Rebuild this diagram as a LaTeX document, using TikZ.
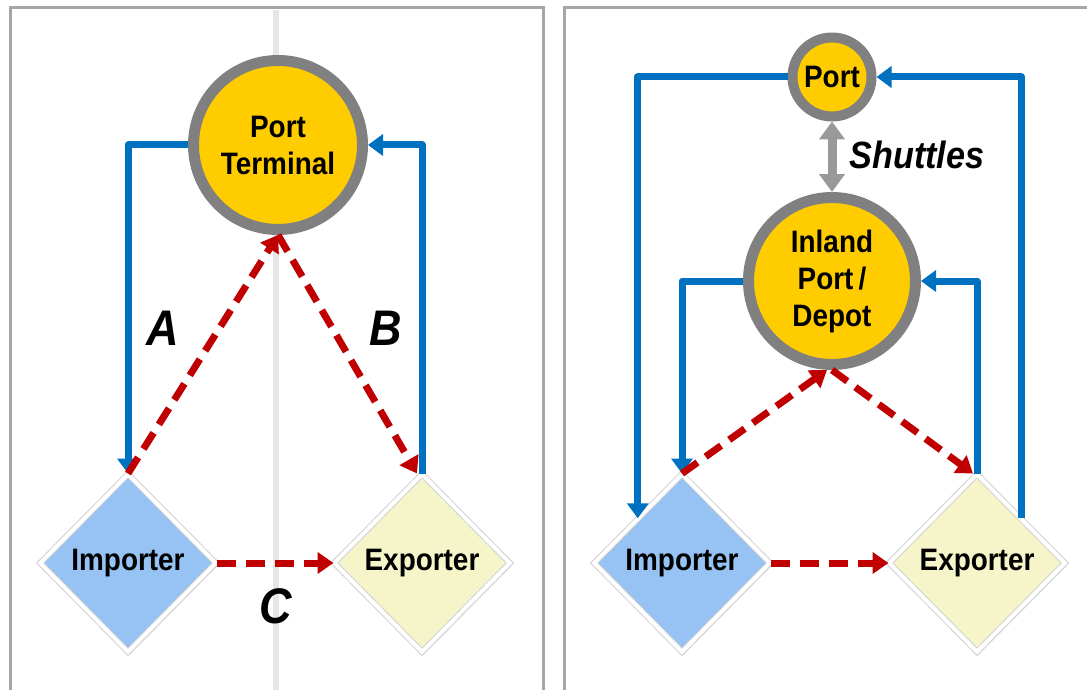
\documentclass[tikz,border=0pt]{standalone}
\usepackage{fontspec}
\setmainfont{Liberation Sans}
\newfontfamily\nf[FakeStretch=0.9]{Liberation Sans}
\usetikzlibrary{arrows.meta,shapes.geometric,shadows}
\definecolor{fblue}{HTML}{0070C0}
\definecolor{fred}{HTML}{C00000}
\definecolor{ring}{HTML}{808080}
\definecolor{gold}{HTML}{FFCC00}
\definecolor{impfill}{HTML}{96C3F3}
\definecolor{expfill}{HTML}{F5F5C9}
\definecolor{frame}{HTML}{A6A6A6}
\definecolor{midline}{HTML}{E6E6E6}
\definecolor{shut}{HTML}{999999}
\tikzset{
  x=1pt, y=-1pt,
  hub/.style={circle, draw=ring, line width=11pt, fill=gold, inner sep=0pt,
    align=center, font=\nf\bfseries\fontsize{31}{37}\selectfont,
    drop shadow={shadow xshift=3pt, shadow yshift=-3pt, opacity=0.25}},
  party/.style={diamond, draw=black!18, double=white, double distance=4pt,
    line width=1pt, inner sep=0pt,
    minimum width=176pt, minimum height=178pt,
    font=\nf\bfseries\fontsize{31}{37}\selectfont,
    drop shadow={shadow xshift=2pt, shadow yshift=-3pt, opacity=0.15}},
  flow/.style={draw=fblue, line width=7pt, line join=round,
    -{Triangle[length=15pt,width=21pt]}},
  cargo/.style={draw=fred, line width=7pt, dash pattern=on 19pt off 10pt,
    -{Triangle[length=16pt,width=21pt]}},
  lab/.style={font=\nf\bfseries\itshape\fontsize{50}{56}\selectfont},
}
\begin{document}
\begin{tikzpicture}
\useasboundingbox (0,0) rectangle (1087,690);
\fill[white] (0,0) rectangle (1087,690);
% panels
\draw[frame, line width=3pt] (10,8) rectangle (543,700);
\draw[frame, line width=3pt] (564,8) rectangle (1100,700);
\draw[midline, line width=6pt] (276,10) -- (276,690);

% ---------- left panel ----------
\node[hub, minimum size=169pt] (pt) at (278,145) {Port\\Terminal};
\node[party, fill=impfill] (imp) at (128,563) {Importer};
\node[party, fill=expfill] (exp) at (422,563) {Exporter};

\draw[flow] (pt.west) -| (imp.north);
\draw[flow] (exp.north) |- (pt.east);
\draw[cargo] (imp.north) -- (pt.south);
\draw[cargo] (pt.south) -- ([xshift=-5pt]exp.north);
\draw[cargo] (imp.east) -- (exp.west);

\node[lab] (la) at (163,328) {A};
\node[lab] (lb) at (386,328) {B};
\node[lab] (lc) at (276,606) {C};

% ---------- right panel ----------
\node[hub, minimum size=79pt, line width=10pt] (p2) at (832,77) {Port};
\node[hub, minimum size=167pt] (ip) at (832,281) {Inland\\Port\,/\\Depot};
\node[party, fill=impfill] (imp2) at (682,563) {Importer};
\node[party, fill=expfill] (exp2) at (977,563) {Exporter};

\draw[shut, line width=9pt, {Triangle[length=18pt,width=25pt]}-{Triangle[length=18pt,width=25pt]}]
  (p2.south) -- (ip.north);
\node[font=\nf\bfseries\itshape\fontsize{38}{42}\selectfont] (sh) at (917,155) {Shuttles};

\draw[flow] (p2.west) -| (imp2.north west);
\draw[flow] (exp2.north east) |- (p2.east);
\draw[flow] (ip.west) -| (imp2.north);
\draw[flow] (exp2.north) |- (ip.east);
\draw[cargo] (imp2.north) -- ([xshift=-5pt]ip.south);
\draw[cargo] (ip.south) -- ([xshift=-4pt]exp2.north);
\draw[cargo] (imp2.east) -- (exp2.west);
\end{tikzpicture}
\end{document}
